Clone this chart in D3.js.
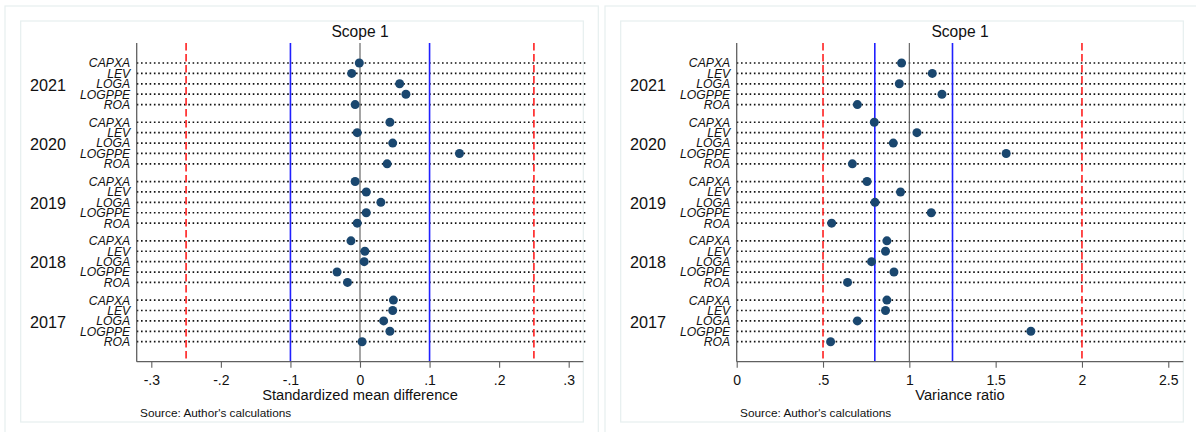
<!DOCTYPE html>
<html>
<head>
<meta charset="utf-8">
<script src="https://cdn.jsdelivr.net/npm/d3@7"></script>
<style>
  html, body { margin: 0; padding: 0; background: #ffffff; }
  svg { display: block; font-family: "Liberation Sans", Arial, sans-serif; }
</style>
</head>
<body>
<svg id="chart" width="1196" height="432"></svg>
<script>
// ---------- data ----------
const years = ["2021", "2020", "2019", "2018", "2017"];
const variables = ["CAPXA", "LEV", "LOGA", "LOGPPE", "ROA"];

// Standardized mean difference, one array per year (order = variables)
const smd2021 = [-0.001, -0.012, 0.057, 0.066, -0.007];
const smd2020 = [0.043, -0.004, 0.047, 0.143, 0.039];
const smd2019 = [-0.007, 0.009, 0.030, 0.009, -0.004];
const smd2018 = [-0.013, 0.007, 0.006, -0.033, -0.018];
const smd2017 = [0.048, 0.047, 0.034, 0.043, 0.003];

// Variance ratio, one array per year (order = variables)
const vr2021 = [0.955, 1.133, 0.942, 1.189, 0.699];
const vr2020 = [0.797, 1.044, 0.907, 1.561, 0.670];
const vr2019 = [0.755, 0.949, 0.801, 1.127, 0.550];
const vr2018 = [0.870, 0.862, 0.781, 0.911, 0.642];
const vr2017 = [0.870, 0.862, 0.699, 1.704, 0.544];

const smdTicks = [-0.3, -0.2, -0.1, 0, 0.1, 0.2, 0.3];
const smdTickLabels = ["-.3", "-.2", "-.1", "0", ".1", ".2", ".3"];
const vrTicks = [0, 0.5, 1, 1.5, 2, 2.5];
const vrTickLabels = ["0", ".5", "1", "1.5", "2", "2.5"];

const smdRedLines = [-0.25, 0.25];
const smdBlueLines = [-0.1, 0.1];
const smdGrayLines = [0];
const vrRedLines = [0.5, 2];
const vrBlueLines = [0.8, 1.25];
const vrGrayLines = [1];

const panelTitle = "Scope 1";
const sourceNote = "Source: Author's calculations";

// ---------- panels ----------
const panels = [
  { ox: 0, values: [smd2021, smd2020, smd2019, smd2018, smd2017],
    domain: [-0.321, 0.321], ticks: smdTicks, tickLabels: smdTickLabels,
    red: smdRedLines, blue: smdBlueLines, gray: smdGrayLines,
    xTitle: "Standardized mean difference" },
  { ox: 600, values: [vr2021, vr2020, vr2019, vr2018, vr2017],
    domain: [0, 2.587], ticks: vrTicks, tickLabels: vrTickLabels,
    red: vrRedLines, blue: vrBlueLines, gray: vrGrayLines,
    xTitle: "Variance ratio" }
];

const svg = d3.select("#chart");
const frameColor = "#e6efef";
const plotTop = 43, plotBottom = 361.7;
const plotLeft = 136.7, plotRight = 583.3;
const gapUnits = 0.7;
const lastUnit = (years.length - 1) * (variables.length + gapUnits) + variables.length - 1;
const padUnits = 1.923;

const y = d3.scaleLinear()
  .domain([-padUnits, lastUnit + padUnits])
  .range([plotTop, plotBottom]);

function unitOf(g, i) { return g * (variables.length + gapUnits) + i; }

panels.forEach(p => {
  const g = svg.append("g").attr("transform", `translate(${p.ox},0)`);

  // frames
  g.append("rect").attr("x", 5).attr("y", 6).attr("width", 593.3).attr("height", 440)
    .attr("fill", "none").attr("stroke", frameColor).attr("stroke-width", 1.2);
  g.append("rect").attr("x", 20.7).attr("y", 21).attr("width", 562.6).attr("height", 401)
    .attr("fill", "#ffffff").attr("stroke", frameColor).attr("stroke-width", 1.2);

  const x = d3.scaleLinear().domain(p.domain).range([plotLeft, plotRight]);

  // dotted row lines
  const rows = [];
  years.forEach((yr, gi) => variables.forEach((v, vi) => {
    rows.push({ year: yr, variable: v, u: unitOf(gi, vi), value: p.values[gi][vi] });
  }));

  g.append("g").selectAll("line").data(rows).join("line")
    .attr("x1", plotLeft).attr("x2", plotRight + 2)
    .attr("y1", d => y(d.u)).attr("y2", d => y(d.u))
    .attr("stroke", "#111").attr("stroke-width", 1.7)
    .attr("stroke-dasharray", "1.6,2.7");

  // reference lines
  g.append("g").selectAll("line").data(p.gray).join("line")
    .attr("x1", d => x(d)).attr("x2", d => x(d))
    .attr("y1", plotTop).attr("y2", plotBottom)
    .attr("stroke", "#5a5a5a").attr("stroke-width", 1.1);
  g.append("g").selectAll("line").data(p.blue).join("line")
    .attr("x1", d => x(d)).attr("x2", d => x(d))
    .attr("y1", plotTop).attr("y2", plotBottom)
    .attr("stroke", "#2020ff").attr("stroke-width", 1.6);
  g.append("g").selectAll("line").data(p.red).join("line")
    .attr("x1", d => x(d)).attr("x2", d => x(d))
    .attr("y1", plotTop).attr("y2", plotBottom)
    .attr("stroke", "#ff2020").attr("stroke-width", 1.6)
    .attr("stroke-dasharray", "7.5,3.5");

  // left axis line
  g.append("line").attr("x1", plotLeft).attr("x2", plotLeft)
    .attr("y1", plotTop).attr("y2", plotBottom)
    .attr("stroke", "#606060").attr("stroke-width", 1.3);

  // x axis
  const xAxis = d3.axisBottom(x).tickValues(p.ticks)
    .tickFormat((d, i) => p.tickLabels[i]).tickSizeOuter(0).tickSize(6).tickPadding(7);
  const ax = g.append("g").attr("transform", `translate(0,${plotBottom})`).call(xAxis);
  ax.select(".domain").attr("stroke", "#606060").attr("stroke-width", 1.3)
    .attr("d", `M${plotLeft},0H${plotRight}`);
  ax.selectAll(".tick line").attr("stroke", "#606060").attr("stroke-width", 1.1);
  ax.selectAll(".tick text").attr("font-size", "14px").attr("fill", "#111")
    .attr("font-family", "Liberation Sans, Arial, sans-serif");

  // points
  g.append("g").selectAll("circle").data(rows).join("circle")
    .attr("cx", d => x(d.value)).attr("cy", d => y(d.u)).attr("r", 4.5)
    .attr("fill", "#1a476f");

  // variable labels
  g.append("g").selectAll("text").data(rows).join("text")
    .attr("x", plotLeft - 6.5).attr("y", d => y(d.u) + 4.4)
    .attr("text-anchor", "end").attr("font-style", "italic")
    .attr("font-size", "12.2px").attr("fill", "#111")
    .text(d => d.variable);

  // year labels (centered on middle variable)
  g.append("g").selectAll("text").data(years).join("text")
    .attr("x", plotLeft - 106.7).attr("y", (d, gi) => y(unitOf(gi, 2)) + 6.8)
    .attr("font-size", "16.2px").attr("fill", "#111")
    .text(d => d);

  // title
  g.append("text").attr("x", (plotLeft + plotRight) / 2).attr("y", 37)
    .attr("text-anchor", "middle").attr("font-size", "15.6px").attr("fill", "#111")
    .text(panelTitle);

  // x title
  g.append("text").attr("x", (plotLeft + plotRight) / 2).attr("y", 399.5)
    .attr("text-anchor", "middle").attr("font-size", "14.7px").attr("fill", "#111")
    .text(p.xTitle);

  // source note
  g.append("text").attr("x", plotLeft + 3.4).attr("y", 416.5)
    .attr("font-size", "11.8px").attr("fill", "#111")
    .text(sourceNote);
});
</script>
</body>
</html>
